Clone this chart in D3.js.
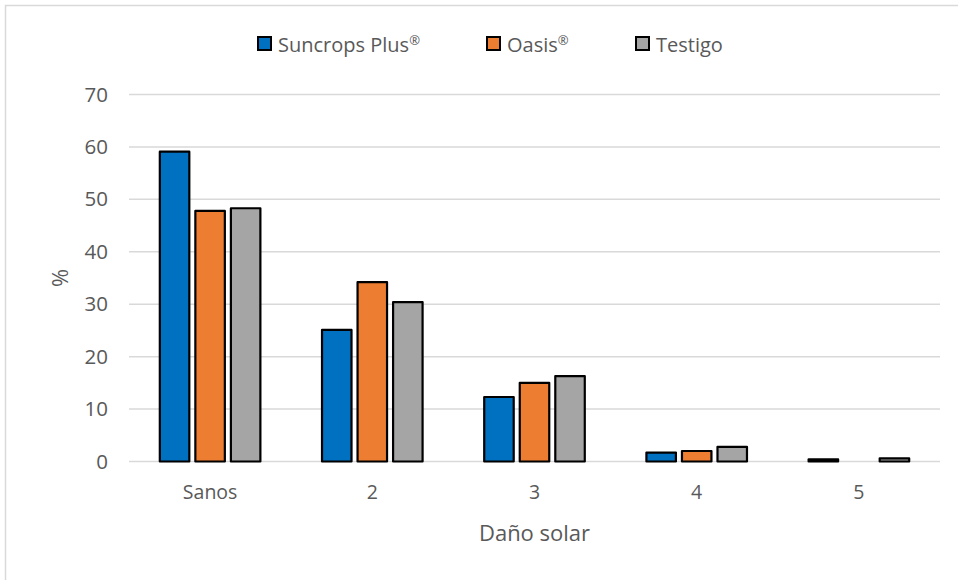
<!DOCTYPE html>
<html>
<head>
<meta charset="utf-8">
<script src="https://cdn.jsdelivr.net/npm/d3@7"></script>
<style>
  html, body { margin: 0; padding: 0; background: #fff; }
  svg { display: block; }
  text { font-family: "Open Sans", "Noto Sans", sans-serif; fill: #595959; }
</style>
</head>
<body>
<svg id="chart" width="958" height="580"></svg>
<script>
// Sun damage categories and percentage of fruit per treatment
const categories = ["Sanos", "2", "3", "4", "5"];
const seriesNames = ["Suncrops Plus", "Oasis", "Testigo"];
const seriesMarks = ["®", "®", ""];
const suncropsPlus = [59.1, 25.1, 12.3, 1.7, 0.4];
const oasis = [47.8, 34.2, 15.0, 2.0, 0];
const testigo = [48.3, 30.4, 16.3, 2.8, 0.6];
const yTicks = [0, 10, 20, 30, 40, 50, 60, 70];
const colors = ["#0070C0", "#ED7D31", "#A5A5A5"];

const seriesValues = [suncropsPlus, oasis, testigo];

const svg = d3.select("#chart");
const W = 958, H = 580;
const plot = { left: 129, right: 940, top: 94.5, bottom: 461.5 };
const FONT = "'Open Sans', 'Noto Sans', sans-serif";

// Outer chart border
svg.append("rect")
  .attr("x", 5.5).attr("y", 5.5)
  .attr("width", W).attr("height", H)
  .attr("fill", "none").attr("stroke", "#D9D9D9").attr("stroke-width", 1.5);

const x = d3.scaleBand()
  .domain(categories)
  .range([plot.left, plot.right])
  .paddingInner(0).paddingOuter(0);

const groupPad = 0.19;
const xInner = d3.scaleBand()
  .domain(seriesNames)
  .range([x.bandwidth() * groupPad, x.bandwidth() * (1 - groupPad)])
  .paddingInner(0.17);

const y = d3.scaleLinear().domain([0, 70]).range([plot.bottom, plot.top]);

// Gridlines
svg.append("g")
  .selectAll("line")
  .data(yTicks)
  .join("line")
  .attr("x1", plot.left).attr("x2", plot.right)
  .attr("y1", d => y(d)).attr("y2", d => y(d))
  .attr("stroke", "#D9D9D9").attr("stroke-width", 1.5);

// Y axis labels
const yAxis = d3.axisLeft(y).tickValues(yTicks).tickSize(0).tickPadding(21);
const yg = svg.append("g").attr("transform", `translate(${plot.left},0)`).call(yAxis);
yg.select(".domain").remove();
yg.selectAll("text")
  .style("font-family", FONT)
  .style("font-size", "20.5px").attr("fill", "#595959");

// X axis labels
const xAxis = d3.axisBottom(x).tickSize(0).tickPadding(24);
const xg = svg.append("g").attr("transform", `translate(0,${plot.bottom})`).call(xAxis);
xg.select(".domain").remove();
xg.selectAll("text")
  .style("font-family", FONT)
  .style("font-size", "19.5px").attr("fill", "#595959");

// Bars (zero values are not drawn)
const groups = svg.append("g")
  .selectAll("g")
  .data(categories)
  .join("g")
  .attr("transform", d => `translate(${x(d)},0)`);

groups.selectAll("rect")
  .data((c, i) => seriesNames
    .map((s, j) => ({ series: s, value: seriesValues[j][i], j }))
    .filter(d => d.value > 0))
  .join("rect")
  .attr("x", d => xInner(d.series))
  .attr("y", d => y(d.value))
  .attr("width", xInner.bandwidth())
  .attr("height", d => y(0) - y(d.value))
  .attr("fill", d => colors[d.j])
  .attr("stroke", "#000").attr("stroke-width", 2.2)
  .attr("stroke-linejoin", "round");

// Axis titles
svg.append("text")
  .attr("x", (plot.left + plot.right) / 2).attr("y", 541)
  .attr("text-anchor", "middle")
  .style("font-size", "22px")
  .text("Daño solar");

svg.append("text")
  .attr("transform", `translate(68,${(plot.top + plot.bottom) / 2}) rotate(-90)`)
  .attr("text-anchor", "middle")
  .style("font-size", "22px")
  .text("%");

// Legend
const legendX = [258, 487, 636];
const legend = svg.append("g")
  .selectAll("g")
  .data(seriesNames)
  .join("g")
  .attr("transform", (d, i) => `translate(${legendX[i]},37)`);
legend.append("rect")
  .attr("width", 13).attr("height", 13)
  .attr("fill", (d, i) => colors[i])
  .attr("stroke", "#000").attr("stroke-width", 2);
const lt = legend.append("text")
  .attr("x", 20).attr("y", 14.5)
  .style("font-size", "20px");
lt.append("tspan").text(d => d);
lt.append("tspan")
  .attr("dy", -7)
  .style("font-size", "13px")
  .text((d, i) => seriesMarks[i]);
</script>
</body>
</html>
